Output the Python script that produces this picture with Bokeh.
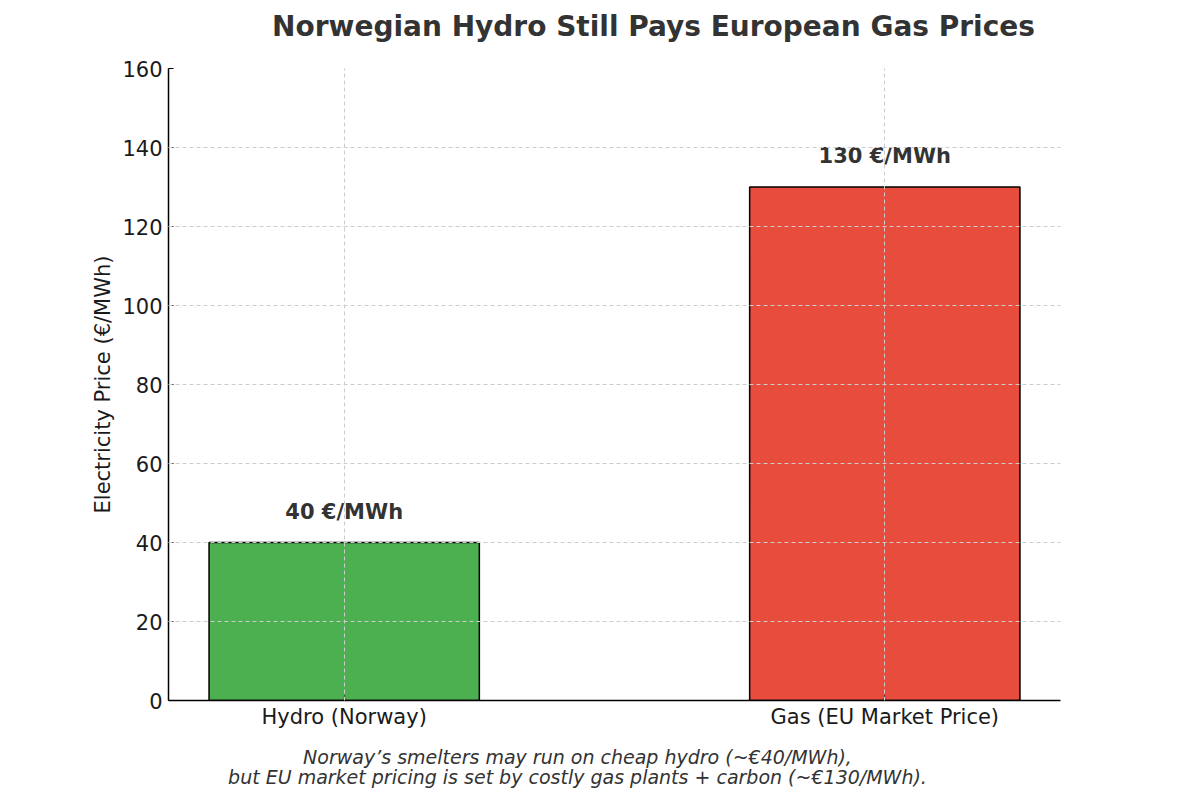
from bokeh.plotting import figure
from bokeh.models import ColumnDataSource, FixedTicker, Range1d
from bokeh.layouts import column
from bokeh.core.properties import value
from bokeh.embed import file_html
from bokeh.resources import INLINE

categories = ["Hydro (Norway)", "Gas (EU Market Price)"]
prices = [40, 130]
labels = ["40 €/MWh", "130 €/MWh"]
colors = ["#4CAF50", "#E74C3C"]
y_ticks = [0, 20, 40, 60, 80, 100, 120, 140, 160]
title_text = "Norwegian Hydro Still Pays European Gas Prices"
caption_lines = ["Norway’s smelters may run on cheap hydro (~€40/MWh),",
                 "but EU market pricing is set by costly gas plants + carbon (~€130/MWh)."]

FONT = "DejaVu Sans"
TXT = "#333333"
W = 1184
FRAME_L, FRAME_R = 168, 1060   # plot frame edges in page pixels


def text_strip(height):
    # column() aligns this strip's frame with the chart's frame,
    # so its x range is expressed in page pixels between the frame edges
    f = figure(width=W, height=height, output_backend="svg", toolbar_location=None,
               x_range=Range1d(FRAME_L, FRAME_R), y_range=Range1d(height, 0),
               x_axis_type=None, y_axis_type=None, min_border=0,
               min_border_left=FRAME_L, min_border_right=W - FRAME_R)
    f.outline_line_color = None
    f.grid.visible = False
    return f


# heading
head = text_strip(56)
head.text(x=[653], y=[26], text=[title_text], text_align="center",
          text_baseline="middle", text_font=value(FONT), text_font_size="28px",
          text_font_style="bold", text_color=TXT)

# main chart
idx = list(range(len(categories)))
src = ColumnDataSource(dict(x=idx, top=prices, label=labels, color=colors))

p = figure(width=W, height=684, output_backend="svg", toolbar_location=None,
           x_range=(-0.325, 1.325), y_range=(0, 160),
           min_border_left=FRAME_L, min_border_right=W - FRAME_R,
           min_border_top=12, min_border_bottom=40)
p.outline_line_color = None
p.background_fill_color = "white"

p.vbar(x="x", top="top", width=0.5, source=src, fill_color="color",
       line_color="black", line_width=1.5)
p.text(x="x", y="top", text="label", source=src, y_offset=-31,
       text_align="center", text_baseline="middle", text_font=value(FONT),
       text_font_style="bold", text_font_size="21px", text_color=TXT)

for g in (p.xgrid, p.ygrid):
    g.grid_line_color = "#cccccc"
    g.grid_line_dash = "4 3"
    g.grid_line_width = 1
    g.level = "overlay"

p.xaxis.ticker = FixedTicker(ticks=idx)
p.xaxis.major_label_overrides = {i: c for i, c in zip(idx, categories)}
p.yaxis.ticker = FixedTicker(ticks=y_ticks)
for ax in (p.xaxis, p.yaxis):
    ax.axis_line_color = "black"
    ax.axis_line_width = 1.5
    ax.major_tick_line_color = "black"
    ax.major_tick_line_width = 1.2
    ax.major_tick_out = 0
    ax.major_tick_in = 5
    ax.minor_tick_line_color = None
    ax.major_label_text_font = FONT
    ax.major_label_text_font_size = "21px"
    ax.major_label_text_color = "#1a1a1a"
p.xaxis.major_label_standoff = 4
p.yaxis.major_label_standoff = 6
p.yaxis.axis_label = "Electricity Price (€/MWh)"
p.yaxis.axis_label_text_font = FONT
p.yaxis.axis_label_text_font_size = "21px"
p.yaxis.axis_label_text_font_style = "normal"
p.yaxis.axis_label_text_color = "#1a1a1a"
p.yaxis.axis_label_standoff = 4

# caption
foot = text_strip(52)
foot.text(x=[577, 577], y=[16, 36], text=caption_lines, text_align="center",
          text_baseline="middle", text_font=value(FONT), text_font_size="19px",
          text_font_style="italic", text_color=TXT)

layout = column(head, p, foot, spacing=0)
open("out.html", "w").write(file_html(layout, INLINE))
